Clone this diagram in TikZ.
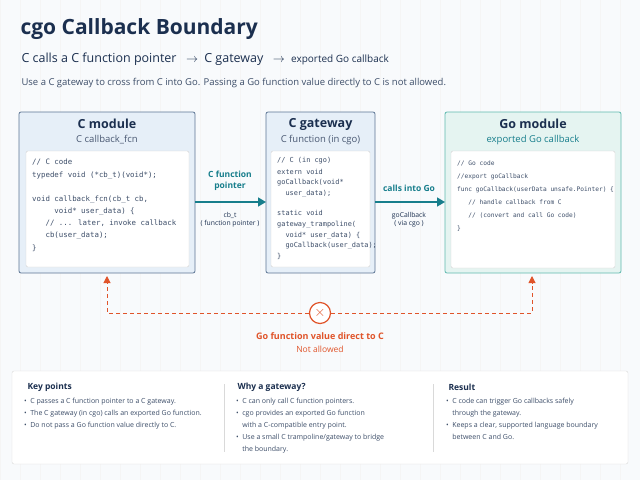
\documentclass[tikz,border=0pt]{standalone}
\usepackage{fontspec}
\setmainfont{Open Sans}
\newfontfamily\codefont{DejaVu Sans Mono}
\usetikzlibrary{positioning,arrows.meta}
\definecolor{navy}{HTML}{1B2F4F}
\definecolor{teal}{HTML}{177E8C}
\definecolor{alert}{HTML}{E0542A}
\definecolor{cframe}{HTML}{5C7594}
\definecolor{cfill}{HTML}{E6EFF8}
\definecolor{gframe}{HTML}{5FB9AE}
\definecolor{gfill}{HTML}{E5F4F1}
\definecolor{paper}{HTML}{F8FAFC}
\tikzset{
	module/.style={
		draw=cframe, fill=cfill, rounded corners=2pt, line width=0.8pt
	},
	codebox/.style={
		draw=gray!35, fill=white, rounded corners=1.5pt
	},
	code/.style={
		anchor=north west, align=left, inner sep=0pt,
		font=\codefont\fontsize{7.4}{12.2}\selectfont, text=navy!85
	},
	modtitle/.style={font=\bfseries\fontsize{12.5}{14}\selectfont, text=navy},
	modsub/.style={font=\fontsize{9.5}{11}\selectfont, text=navy!80},
	flow/.style={-{Triangle[length=8pt,width=9pt]}, draw=teal, line width=1.6pt},
	flowlabel/.style={font=\bfseries\fontsize{8.5}{10.5}\selectfont, text=teal, align=center},
	smalllabel/.style={font=\fontsize{6.8}{8}\selectfont, text=navy, align=center},
	forbidden/.style={draw=alert, line width=1pt, dash pattern=on 4pt off 3pt},
	heading/.style={anchor=west, font=\bfseries\fontsize{8.5}{10}\selectfont, text=navy},
	bullets/.style={anchor=north west, align=left, inner sep=0pt,
		font=\fontsize{7}{12}\selectfont, text=navy!85},
}
\begin{document}
\begin{tikzpicture}[x=1pt,y=-1pt]
\useasboundingbox (0,0) rectangle (640,480);
\fill[paper] (0,0) rectangle (640,480);
\draw[gray!8, step=20] (0,0) grid (640,480);

% heading
\node[anchor=west, font=\bfseries\fontsize{21}{24}\selectfont, text=navy] (title) at (17,29) {cgo Callback Boundary};
\node[anchor=west, font=\fontsize{12.5}{14}\selectfont, text=navy] (chain) at (18,59)
	{C calls a C function pointer \enspace$\rightarrow$\enspace C gateway \enspace$\rightarrow$\enspace {\fontsize{10}{12}\selectfont exported Go callback}};
\node[anchor=west, font=\fontsize{9.5}{11}\selectfont, text=navy!85] (intro) at (18,83)
	{Use a C gateway to cross from C into Go. Passing a Go function value directly to C is not allowed.};

% C module
\draw[module] (19,112) rectangle (195,273);
\node[modtitle] (cmod) at (107,124) {C module};
\node[modsub] (cmodsub) at (107,140) {C callback\_fcn};
\draw[codebox] (26,151) rectangle (189,267);
\node[code] (ccode) at (32,159) {// C code\\typedef void (*cb\_t)(void*);\\[12pt]void callback\_fcn(cb\_t cb,\\\ \ \ \ \ void* user\_data) \{\\\ \ \ // ... later, invoke callback\\\ \ \ cb(user\_data);\\\}};

% C gateway
\draw[module] (266,112) rectangle (375,273);
\node[modtitle] (cgw) at (320.5,124) {C gateway};
\node[modsub] (cgwsub) at (320.5,140) {C function (in cgo)};
\draw[codebox] (271,151) rectangle (370,267);
\node[code, font=\codefont\fontsize{6.9}{10.6}\selectfont] (gwcode) at (277,157) {// C (in cgo)\\[1pt]extern void\\goCallback(void*\\\ \ user\_data);\\[10pt]static void\\gateway\_trampoline(\\\ \ void* user\_data) \{\\\ \ goCallback(user\_data);\\\}};

% Go module
\draw[module, draw=gframe, fill=gfill] (445,112) rectangle (621,273);
\node[modtitle] (gomod) at (533,124) {Go module};
\node[modsub, text=teal] (gomodsub) at (533,140) {exported Go callback};
\draw[codebox] (451,151) rectangle (615,268);
\node[code, font=\codefont\fontsize{6.2}{13}\selectfont] (gocode) at (457,161) {// Go code\\//export goCallback\\func goCallback(userData unsafe.Pointer) \{\\\ \ \ // handle callback from C\\\ \ \ // (convert and call Go code)\\\}};

% flows
\coordinate (a1) at (195,202);
\coordinate (a2) at (266,202);
\coordinate (b1) at (375,202);
\coordinate (b2) at (445,202);
\draw[flow] (a1) -- (a2);
\draw[flow] (b1) -- (b2);
\node[flowlabel] (fp) at (230,181) {C function\\pointer};
\node[smalllabel] (cbt) at (230,220) {cb\_t\\( function pointer )};
\node[flowlabel] (cig) at (409,188) {calls into Go};
\node[smalllabel] (viacgo) at (409,220) {goCallback\\( via cgo )};

% not allowed
\node[circle, draw=alert, line width=1.2pt, fill=white, minimum size=21pt, inner sep=0pt,
	font=\bfseries\fontsize{14}{14}\selectfont, text=alert] (stop) at (320,313) {$\times$};
\coordinate (lt) at (107,276);
\coordinate (rt) at (532,276);
\draw[forbidden, -{Triangle[length=7pt,width=7pt]}] (stop) -| (lt);
\draw[forbidden, -{Triangle[length=7pt,width=7pt]}] (stop) -| (rt);
\node[font=\bfseries\fontsize{9}{11}\selectfont, text=alert] (bad) at (320,336) {Go function value direct to C};
\node[font=\fontsize{8.5}{10}\selectfont, text=alert] (na) at (320,349) {Not allowed};

% summary panel
\draw[draw=gray!30, fill=white, rounded corners=2pt] (12,371) rectangle (628,464);
\draw[gray!30] (224,384) -- (224,452);
\draw[gray!30] (433,384) -- (433,452);
\node[heading] (kp) at (24,387) {Key points};
\node[bullets] (kpl) at (24,398) {\textbullet\enspace C passes a C function pointer to a C gateway.\\\textbullet\enspace The C gateway (in cgo) calls an exported Go function.\\\textbullet\enspace Do not pass a Go function value directly to C.};
\node[heading] (why) at (234,387) {Why a gateway?};
\node[bullets] (whyl) at (236,398) {\textbullet\enspace C can only call C function pointers.\\\textbullet\enspace cgo provides an exported Go function\\\phantom{\textbullet\enspace}with a C-compatible entry point.\\\textbullet\enspace Use a small C trampoline/gateway to bridge\\\phantom{\textbullet\enspace}the boundary.};
\node[heading] (res) at (445,387) {Result};
\node[bullets] (resl) at (446,398) {\textbullet\enspace C code can trigger Go callbacks safely\\\phantom{\textbullet\enspace}through the gateway.\\\textbullet\enspace Keeps a clear, supported language boundary\\\phantom{\textbullet\enspace}between C and Go.};
\end{tikzpicture}
\end{document}
